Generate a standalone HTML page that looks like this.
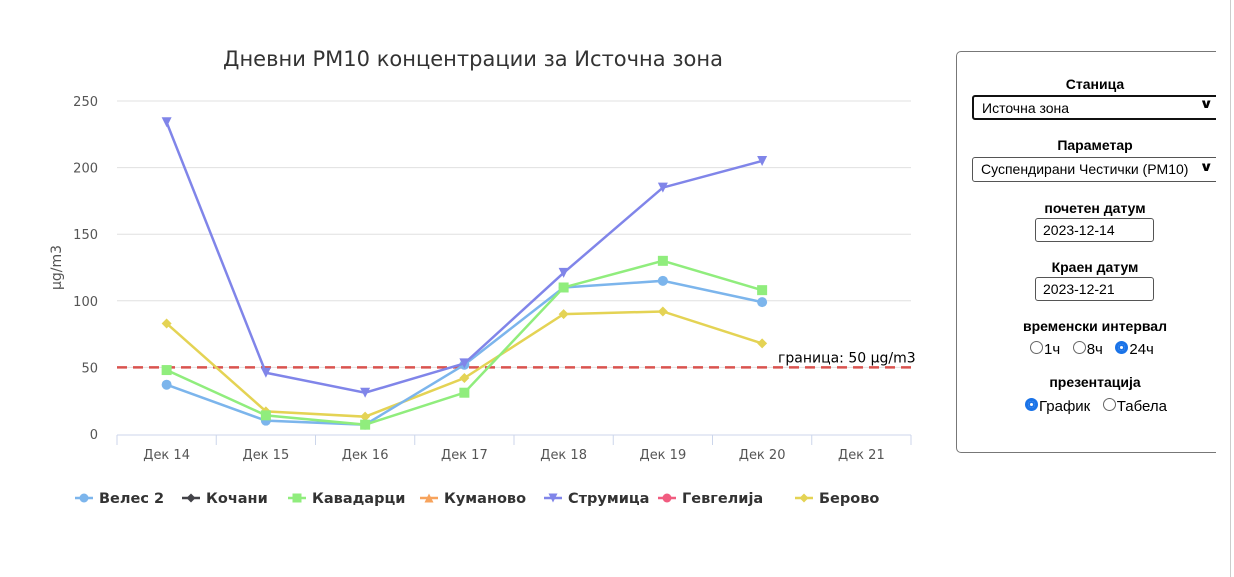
<!DOCTYPE html>
<html><head><meta charset="utf-8"><style>
body{margin:0;width:1234px;height:577px;background:#fff;overflow:hidden;position:relative;font-family:"Liberation Sans","DejaVu Sans",sans-serif}
#panel{position:absolute;left:956px;top:51px;width:290px;height:402px;border:1px solid #777;border-radius:5px;box-sizing:border-box}
#clip{position:absolute;left:1216px;top:0;width:18px;height:577px;background:#fff}
#sb{position:absolute;left:1230px;top:0;width:1px;height:577px;background:#ccc}
.lbl{position:absolute;font-weight:bold;font-size:14px;color:#000;text-align:center}
.sel{position:absolute;left:972px;height:25px;border:1px solid #555;border-radius:3px;box-sizing:border-box;font-size:14px;padding:3px 8px;width:260px}
.chev{position:absolute;left:1201px;font-size:13px;font-weight:bold;transform:scaleX(1.3);z-index:5}
.inp{position:absolute;left:1035px;width:119px;height:24px;border:1px solid #555;border-radius:3px;box-sizing:border-box;font-size:14px;padding:3px 7px}
.rad{position:absolute;font-size:15px}
.rc{display:inline-block;width:13px;height:13px;border:1px solid #666;border-radius:50%;vertical-align:0px;margin-right:1px;box-sizing:border-box}
.rc.on{border:3px solid #1a73e8;background:#fff;box-shadow:0 0 0 2px #1a73e8 inset}
</style></head><body>
<svg id="chart" width="940" height="577" style="position:absolute;left:0;top:0" font-family="'DejaVu Sans','Liberation Sans',sans-serif"></svg>
<div id="panel"></div>
<div class="lbl" style="left:1040px;top:76px;width:110px">Станица</div>
<div class="sel" style="top:95px;border:2px solid #111">Источна зона</div>
<div class="chev" style="top:96px">&#x2228;</div>
<div class="lbl" style="left:1040px;top:137px;width:110px">Параметар</div>
<div class="sel" style="top:157px">Суспендирани Честички (PM10)</div>
<div class="chev" style="top:159px">&#x2228;</div>
<div class="lbl" style="left:1020px;top:200px;width:150px">почетен датум</div>
<div class="inp" style="top:218px">2023-12-14</div>
<div class="lbl" style="left:1020px;top:259px;width:150px">Краен датум</div>
<div class="inp" style="top:277px">2023-12-21</div>
<div class="lbl" style="left:1010px;top:318px;width:170px">временски интервал</div>
<div class="rad" style="left:1030px;top:341px"><span><span class="rc"></span>1ч</span>&nbsp;&nbsp;&nbsp;<span><span class="rc"></span>8ч</span>&nbsp;&nbsp;&nbsp;<span><span class="rc on"></span>24ч</span></div>
<div class="lbl" style="left:1030px;top:374px;width:130px">презентација</div>
<div class="rad" style="left:1025px;top:398px"><span><span class="rc on"></span>График</span>&nbsp;&nbsp;&nbsp;<span><span class="rc"></span>Табела</span></div>
<div id="clip"></div><div id="sb"></div>
<script>
const categories=["Дек 14","Дек 15","Дек 16","Дек 17","Дек 18","Дек 19","Дек 20","Дек 21"];
const yTicks=[0,50,100,150,200,250];
const veles=[37,10,7,52,110,115,99,null];
const kavadarci=[48,14,7,31,110,130,108,null];
const strumica=[234,46,31,53,121,185,205,null];
const berovo=[83,17,13,42,90,92,68,null];
const threshold=50;
const legendNames=["Велес 2","Кочани","Кавадарци","Куманово","Струмица","Гевгелија","Берово"];
const legendColors=["#7cb5ec","#434348","#90ed7d","#f7a35c","#8085e9","#f15c80","#e4d354"];
const legendSymbols=["circle","diamond","square","triangle","triangle-down","circle","diamond"];

const svg=document.getElementById('chart');
const NS="http://www.w3.org/2000/svg";
const L=117,R=911,T=101,B=434,maxY=250;
const cw=(R-L)/categories.length;
const x=i=>L+cw*(i+0.5);
const y=v=>B-(v/maxY)*(B-T);
function mk(tag,at,parent){const e=document.createElementNS(NS,tag);for(const k in at)e.setAttribute(k,at[k]);(parent||svg).appendChild(e);return e;}
function sym(type,cx,cy,color,s,parent){
  if(type==="circle")return mk('circle',{cx,cy,r:s,fill:color},parent);
  if(type==="square")return mk('rect',{x:cx-s,y:cy-s,width:2*s,height:2*s,fill:color},parent);
  if(type==="diamond")return mk('polygon',{points:`${cx},${cy-s} ${cx+s},${cy} ${cx},${cy+s} ${cx-s},${cy}`,fill:color},parent);
  if(type==="triangle")return mk('polygon',{points:`${cx},${cy-s} ${cx+s},${cy+s} ${cx-s},${cy+s}`,fill:color},parent);
  return mk('polygon',{points:`${cx-s},${cy-s} ${cx+s},${cy-s} ${cx},${cy+s}`,fill:color},parent);
}
let t=mk('text',{x:473,y:66,'text-anchor':'middle','font-size':21,fill:'#333'});
t.textContent="Дневни PM10 концентрации за Источна зона";


yTicks.forEach(v=>{
  if(v>0){const g=mk('line',{x1:L,x2:R,y1:y(v),y2:y(v),stroke:'#e0e0e0','stroke-width':1});
  
  }
  const tx=mk('text',{x:98,y:y(v)+5,'text-anchor':'end','font-size':13,fill:'#555'});
  tx.textContent=v;
  
  
});
let yt=mk('text',{x:0,y:0,'text-anchor':'middle','font-size':14,fill:'#555',transform:`translate(61,${(T+B)/2}) rotate(-90)`});
yt.textContent="μg/m3";


mk('line',{x1:L,x2:R,y1:B+1,y2:B+1,stroke:'#ccd6eb','stroke-width':1});
categories.forEach((c,i)=>{
  mk('line',{x1:L+cw*i,x2:L+cw*i,y1:B+1,y2:B+11,stroke:'#ccd6eb'});
  const tx=mk('text',{x:x(i),y:B+25,'text-anchor':'middle','font-size':13,fill:'#555'});
  tx.textContent=c;
  
  
});
mk('line',{x1:R,x2:R,y1:B+1,y2:B+11,stroke:'#ccd6eb'});
const th=mk('line',{x1:L,x2:R,y1:y(threshold),y2:y(threshold),stroke:'#d9534f','stroke-width':2.5,'stroke-dasharray':'10,6'});


const tl=mk('text',{x:778,y:y(threshold)-5,'font-size':14,fill:'#000'});
tl.textContent="граница: 50 μg/m3";


function series(data,color,symbol,name){
  const g=mk('g',{});
  
  
  const pts=data.map((v,i)=>v==null?null:[x(i),y(v)]).filter(p=>p);
  mk('polyline',{points:pts.map(p=>p.join(',')).join(' '),fill:'none',stroke:color,'stroke-width':2.5},g);
  pts.forEach(p=>sym(symbol,p[0],p[1],color,symbol==="diamond"?5:5,g));
}
series(berovo,"#e4d354","diamond","series-berovo");
series(veles,"#7cb5ec","circle","series-veles");
series(kavadarci,"#90ed7d","square","series-kavadarci");
series(strumica,"#8085e9","triangle-down","series-strumica");
const lx=[84,191,297,429,553,667,804];
legendNames.forEach((n,i)=>{
  const g=mk('g',{});
  
  
  mk('line',{x1:lx[i]-9,x2:lx[i]+9,y1:498,y2:498,stroke:legendColors[i],'stroke-width':2.5},g);
  sym(legendSymbols[i],lx[i],498,legendColors[i],4.5,g);
  const tx=mk('text',{x:lx[i]+15,y:503,'font-size':14.5,'font-weight':'bold',fill:'#333'},g);
  tx.textContent=n;
});
</script>
</body></html>
